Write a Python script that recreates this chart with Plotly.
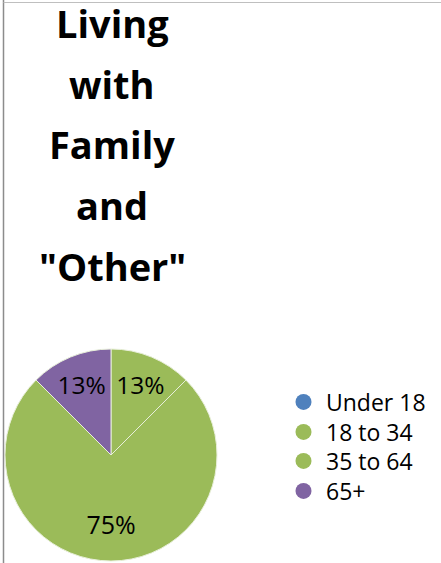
import plotly.graph_objects as go

categories = ["Under 18", "18 to 34", "35 to 64", "65+"]
values = [0, 1, 6, 1]
colors = ["#4F81BD", "#9BBB59", "#9BBB59", "#8064A2"]
title_lines = ["Living", "with", "Family", "and", "\"Other\""]

W, H = 441, 563
FONT = "Open Sans"

total = sum(values)
# big slices get a blank line above so the label sits lower, like the reference
templates = ["\u00a0<br>%{percent:.0%}" if v / total > 0.5 else "%{percent:.0%}" for v in values]

fig = go.Figure()

fig.add_trace(go.Pie(
    labels=categories,
    values=values,
    marker=dict(colors=colors, line=dict(color="#E8EFDA", width=1)),
    sort=False,
    direction="clockwise",
    rotation=0,
    texttemplate=templates,
    textposition="inside",
    insidetextorientation="horizontal",
    textfont=dict(family=FONT, size=25, color="#000000"),
    showlegend=False,
    domain=dict(x=[5 / W, 217 / W], y=[1 - 561 / H, 1 - 349 / H]),
    hoverinfo="label+percent",
))

legend_rows = [402, 432, 461, 491]
legend_names = ["legend", "legend2", "legend3", "legend4"]
for cat, col, lg in zip(categories, colors, legend_names):
    fig.add_trace(go.Scatter(
        x=[None], y=[None], mode="markers", name=cat,
        marker=dict(symbol="circle", size=20, color=col),
        showlegend=True, legend=lg,
    ))

# title lines
baselines = [39, 100, 160, 221, 282]
for line, b in zip(title_lines, baselines):
    fig.add_annotation(
        text=f"<b>{line}</b>", x=112 / W, y=1 - b / H, xref="paper", yref="paper",
        xanchor="center", yanchor="bottom", showarrow=False,
        font=dict(family=FONT, size=38, color="#000000"),
        yshift=-12,
    )

legend_style = dict(
    x=281 / W, xanchor="left", yanchor="middle",
    font=dict(family=FONT, size=23, color="#000000"),
    itemsizing="trace", itemwidth=35, bgcolor="rgba(0,0,0,0)",
)
layout_legends = {}
for lg, row in zip(legend_names, legend_rows):
    layout_legends[lg] = dict(legend_style, y=1 - row / H)

fig.update_layout(
    width=W, height=H,
    margin=dict(l=0, r=0, t=0, b=0),
    paper_bgcolor="white", plot_bgcolor="white",
    xaxis=dict(visible=False), yaxis=dict(visible=False),
    shapes=[
        dict(type="line", xref="paper", yref="paper", x0=3.5 / W, x1=3.5 / W, y0=0, y1=1,
             line=dict(color="#8C8C8C", width=1.5)),
        dict(type="line", xref="paper", yref="paper", x0=3.5 / W, x1=1, y0=1 - 2.5 / H, y1=1 - 2.5 / H,
             line=dict(color="#BFBFBF", width=1)),
    ],
    **layout_legends,
)

fig.write_html("out.html", config={"displayModeBar": False},
               post_script="document.body.style.margin='0';")
